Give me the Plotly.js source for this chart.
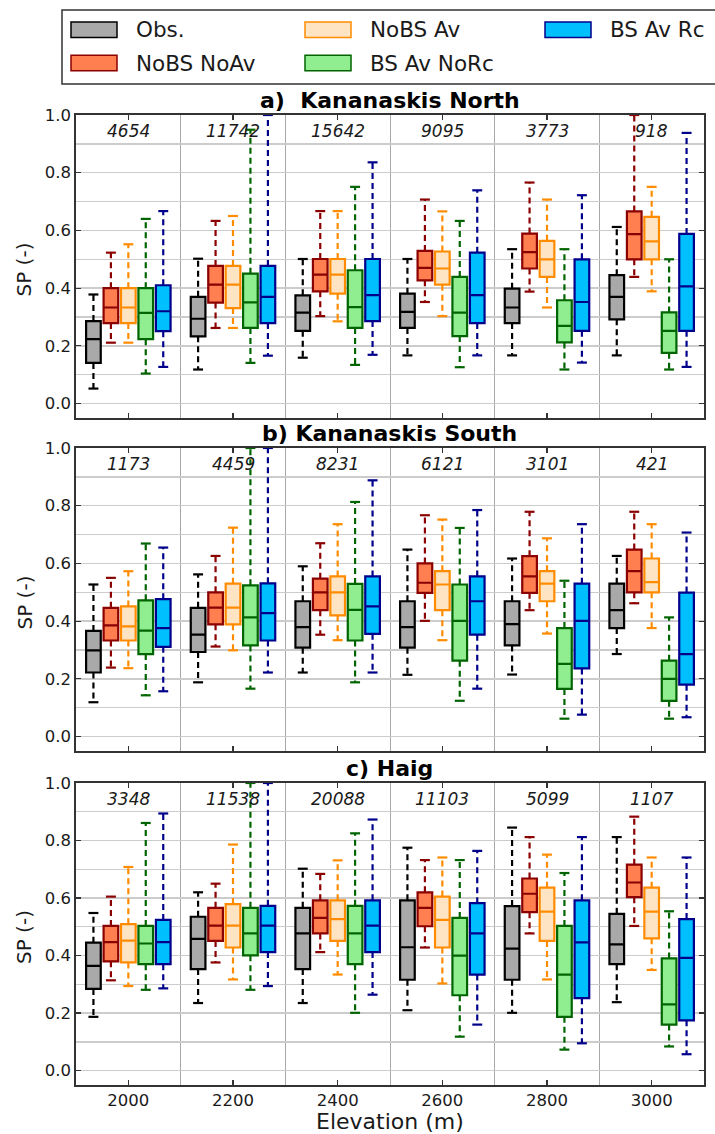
<!DOCTYPE html>
<html><head><meta charset="utf-8">
<script src="https://cdn.plot.ly/plotly-3.0.1.min.js"></script>
<style>html,body{margin:0;padding:0;background:#fff}#chart{width:715px;height:1134px}</style>
</head><body><div id="chart"></div><script>
// ---------------- DATA ----------------
const elevations = [2000, 2200, 2400, 2600, 2800, 3000];
const seriesNames = ['Obs.', 'NoBS NoAv', 'NoBS Av', 'BS Av NoRc', 'BS Av Rc'];
const panelTitles = ['a)  Kananaskis North', 'b) Kananaskis South', 'c) Haig'];
const yTickVals = [0, 0.2, 0.4, 0.6, 0.8, 1.0];
const yTickText = ['0.0', '0.2', '0.4', '0.6', '0.8', '1.0'];

const countsKN = [4654, 11742, 15642, 9095, 3773, 918];
const countsKS = [1173, 4459, 8231, 6121, 3101, 421];
const countsHG = [3348, 11538, 20088, 11103, 5099, 1107];

// each entry: [lower whisker, q1, median, q3, upper whisker] per elevation
const KN_obs   = [[0.052,0.141,0.223,0.286,0.378],[0.118,0.233,0.294,0.370,0.502],[0.159,0.252,0.315,0.375,0.501],[0.167,0.262,0.318,0.381,0.501],[0.167,0.279,0.333,0.398,0.535],[0.167,0.292,0.370,0.445,0.612]];
const KN_nobsNoav = [[0.211,0.279,0.333,0.400,0.523],[0.262,0.350,0.412,0.477,0.633],[0.303,0.389,0.447,0.501,0.667],[0.352,0.427,0.470,0.529,0.707],[0.388,0.468,0.525,0.589,0.766],[0.439,0.500,0.587,0.666,1.0]];
const KN_nobsAv = [[0.211,0.279,0.333,0.400,0.552],[0.262,0.331,0.412,0.477,0.650],[0.285,0.381,0.447,0.501,0.667],[0.303,0.412,0.468,0.527,0.666],[0.333,0.439,0.500,0.564,0.707],[0.389,0.500,0.562,0.647,0.751]];
const KN_bsAvNorc = [[0.104,0.223,0.314,0.400,0.640],[0.141,0.262,0.351,0.450,0.949],[0.134,0.262,0.334,0.462,0.751],[0.126,0.234,0.315,0.439,0.633],[0.118,0.212,0.269,0.358,0.535],[0.118,0.176,0.252,0.316,0.500]];
const KN_bsAvRc = [[0.127,0.251,0.320,0.410,0.667],[0.166,0.279,0.370,0.477,1.0],[0.169,0.286,0.376,0.501,0.836],[0.167,0.279,0.376,0.523,0.739],[0.142,0.252,0.352,0.500,0.722],[0.127,0.252,0.406,0.588,0.938]];

const KS_obs = [[0.119,0.222,0.299,0.366,0.527],[0.188,0.293,0.353,0.446,0.562],[0.222,0.308,0.379,0.469,0.590],[0.214,0.308,0.379,0.469,0.648],[0.215,0.316,0.390,0.469,0.617],[0.286,0.376,0.438,0.530,0.626]];
const KS_nobsNoav = [[0.239,0.333,0.385,0.446,0.550],[0.312,0.389,0.447,0.500,0.626],[0.353,0.438,0.500,0.547,0.670],[0.401,0.498,0.533,0.600,0.767],[0.438,0.498,0.555,0.625,0.779],[0.462,0.500,0.573,0.648,0.779]];
const KS_nobsAv = [[0.237,0.333,0.382,0.451,0.573],[0.299,0.389,0.447,0.530,0.724],[0.334,0.420,0.500,0.555,0.736],[0.334,0.438,0.527,0.573,0.752],[0.357,0.469,0.530,0.573,0.687],[0.376,0.500,0.535,0.617,0.736]];
const KS_bsAvNorc = [[0.143,0.286,0.367,0.472,0.669],[0.166,0.316,0.413,0.524,1.0],[0.188,0.333,0.439,0.529,0.813],[0.124,0.263,0.401,0.527,0.723],[0.062,0.165,0.252,0.376,0.540],[0.062,0.124,0.200,0.263,0.413]];
const KS_bsAvRc = [[0.157,0.311,0.376,0.476,0.655],[0.222,0.333,0.428,0.531,1.0],[0.222,0.356,0.451,0.555,0.888],[0.166,0.353,0.469,0.555,0.785],[0.076,0.236,0.401,0.530,0.736],[0.067,0.180,0.286,0.499,0.707]];

const HG_obs = [[0.187,0.284,0.364,0.445,0.548],[0.235,0.353,0.458,0.535,0.620],[0.235,0.353,0.477,0.566,0.702],[0.210,0.316,0.429,0.592,0.775],[0.201,0.316,0.424,0.572,0.845],[0.238,0.370,0.439,0.545,0.812]];
const HG_nobsNoav = [[0.314,0.380,0.447,0.503,0.605],[0.376,0.451,0.504,0.566,0.650],[0.412,0.477,0.531,0.592,0.684],[0.428,0.502,0.566,0.620,0.732],[0.477,0.551,0.615,0.668,0.812],[0.503,0.603,0.654,0.716,0.883]];
const HG_nobsAv = [[0.294,0.376,0.452,0.509,0.708],[0.317,0.428,0.504,0.579,0.786],[0.334,0.451,0.527,0.592,0.731],[0.303,0.428,0.524,0.605,0.741],[0.317,0.451,0.553,0.636,0.751],[0.350,0.460,0.553,0.636,0.741]];
const HG_bsAvNorc = [[0.281,0.370,0.442,0.503,0.861],[0.281,0.401,0.477,0.566,1.0],[0.201,0.370,0.477,0.573,0.825],[0.118,0.262,0.400,0.531,0.732],[0.073,0.187,0.334,0.503,0.687],[0.084,0.160,0.230,0.390,0.554]];
const HG_bsAvRc = [[0.286,0.370,0.447,0.524,0.894],[0.294,0.412,0.504,0.573,1.0],[0.264,0.412,0.504,0.592,0.873],[0.160,0.334,0.477,0.582,0.764],[0.095,0.252,0.446,0.592,0.812],[0.057,0.175,0.392,0.527,0.741]];

// ---------------- STYLE / LAYOUT ----------------
const fills = ['#a9a9a9', '#ff7f50', '#ffe4c4', '#90ee90', '#00bfff'];
const edges = ['#000000', '#8b0000', '#ff8c00', '#006400', '#00008b'];
const W = 715, H = 1134;
const px = v => v / W, py = v => 1 - v / H;
const FONT = 'DejaVu Sans, Verdana, sans-serif';

const panels = [
  {title: panelTitles[0], counts: countsKN, series: [KN_obs, KN_nobsNoav, KN_nobsAv, KN_bsAvNorc, KN_bsAvRc], top: 115, bot: 418, titleY: 101},
  {title: panelTitles[1], counts: countsKS, series: [KS_obs, KS_nobsNoav, KS_nobsAv, KS_bsAvNorc, KS_bsAvRc], top: 448, bot: 751, titleY: 434},
  {title: panelTitles[2], counts: countsHG, series: [HG_obs, HG_nobsNoav, HG_nobsAv, HG_bsAvNorc, HG_bsAvRc], top: 783, bot: 1085, titleY: 768}
];
const offsets = [-66.7, -33.3, 0, 33.3, 66.7];
const boxW = 28, capHalf = 9.5;
const plotL = 76, plotR = 704;

const traces = [];
const layout = {
  width: W, height: H, margin: {l: 0, r: 0, t: 0, b: 0},
  paper_bgcolor: '#fff', plot_bgcolor: '#fff', showlegend: false,
  font: {family: FONT, color: '#1a1a1a'},
  annotations: [], shapes: []
};

const boundaries = elevations.slice(0, -1).map(e => e + 100);

panels.forEach((p, pi) => {
  const xa = pi === 0 ? 'x' : 'x' + (pi + 1);
  const ya = pi === 0 ? 'y' : 'y' + (pi + 1);
  p.series.forEach((ser, si) => {
    const xs = elevations.map(e => e + offsets[si]);
    const wx = [], wy = [], cx = [], cy = [];
    ser.forEach((d, i) => {
      const x = xs[i];
      wx.push(x, x, null, x, x, null);
      wy.push(d[3], d[4], null, d[1], d[0], null);
      cx.push(x - capHalf, x + capHalf, null, x - capHalf, x + capHalf, null);
      cy.push(d[4], d[4], null, d[0], d[0], null);
    });
    traces.push({type: 'box', x: xs, q1: ser.map(d => d[1]), median: ser.map(d => d[2]), q3: ser.map(d => d[3]),
      lowerfence: ser.map(d => d[1]), upperfence: ser.map(d => d[3]), width: boxW, whiskerwidth: 0,
      fillcolor: fills[si], line: {color: edges[si], width: 2.2}, boxpoints: false,
      xaxis: xa, yaxis: ya, name: seriesNames[si], showlegend: false, hoverinfo: 'skip'});
    traces.push({type: 'scatter', mode: 'lines', x: wx, y: wy, xaxis: xa, yaxis: ya,
      line: {color: edges[si], width: 2.2, dash: '6px,4px'}, showlegend: false, hoverinfo: 'skip'});
    traces.push({type: 'scatter', mode: 'lines', x: cx, y: cy, xaxis: xa, yaxis: ya,
      line: {color: edges[si], width: 2.2}, showlegend: false, hoverinfo: 'skip'});
  });

  const xname = pi === 0 ? 'xaxis' : 'xaxis' + (pi + 1);
  const yname = pi === 0 ? 'yaxis' : 'yaxis' + (pi + 1);
  layout[xname] = {
    domain: [px(plotL), px(plotR)], range: [1900, 3100], anchor: ya,
    tickmode: 'array', tickvals: elevations, ticktext: elevations.map(String),
    showticklabels: pi === 2, tickfont: {size: 16.5, family: FONT, color: '#1a1a1a'},
    ticks: 'inside', ticklen: 5, tickwidth: 1.2, tickcolor: '#333',
    showline: true, linecolor: '#333', linewidth: 1.6, mirror: 'ticks',
    showgrid: false, zeroline: false,
    minor: {tickmode: 'array', tickvals: boundaries, showgrid: true, gridcolor: '#a8a8a8', gridwidth: 1, ticks: ''}
  };
  layout[yname] = {
    domain: [py(p.bot), py(p.top)], range: [-0.05, 1.0], anchor: xa,
    tickmode: 'array', tickvals: yTickVals, ticktext: yTickText,
    tickfont: {size: 16.5, family: FONT, color: '#1a1a1a'},
    ticks: 'inside', ticklen: 5, tickwidth: 1.2, tickcolor: '#333',
    showline: true, linecolor: '#333', linewidth: 1.6, mirror: 'ticks',
    showgrid: true, gridcolor: '#cccccc', gridwidth: 1.3, zeroline: false,
    minor: {dtick: 0.1, tick0: 0, showgrid: true, gridcolor: '#cccccc', gridwidth: 1.3, ticks: ''}
  };

  // counts
  p.counts.forEach((c, i) => {
    layout.annotations.push({x: elevations[i], y: 0.945, xref: xa, yref: ya, text: String(c), showarrow: false,
      font: {size: 17, family: FONT, style: 'italic', color: '#1a1a1a'}, xanchor: 'center', yanchor: 'middle'});
  });
  // panel title
  layout.annotations.push({x: px((plotL + plotR) / 2), y: py(p.titleY), xref: 'paper', yref: 'paper', text: '<b>' + p.title + '</b>',
    showarrow: false, font: {size: 22, family: FONT, color: '#000'}, xanchor: 'center', yanchor: 'middle'});
  // y title
  layout.annotations.push({x: px(24), y: py((p.top + p.bot) / 2 + 3), xref: 'paper', yref: 'paper', text: 'SP (-)', textangle: -90,
    showarrow: false, font: {size: 20, family: FONT, color: '#1a1a1a'}, xanchor: 'center', yanchor: 'middle'});
});

// x title
layout.annotations.push({x: px((plotL + plotR) / 2), y: py(1121), xref: 'paper', yref: 'paper', text: 'Elevation (m)',
  showarrow: false, font: {size: 22, family: FONT, color: '#1a1a1a'}, xanchor: 'center', yanchor: 'middle'});

// legend (custom, column-major with 3 columns like the original)
const legCols = [71, 305, 545], legRows = [29.7, 63];
layout.shapes.push({type: 'rect', xref: 'paper', yref: 'paper', x0: px(62), x1: px(720), y0: py(10), y1: py(84),
  line: {color: '#333', width: 1.5}, fillcolor: '#fff', layer: 'below'});
seriesNames.forEach((n, i) => {
  const col = Math.floor(i / 2), row = i % 2;
  const x0 = legCols[col], yc = legRows[row];
  layout.shapes.push({type: 'rect', xref: 'paper', yref: 'paper', x0: px(x0), x1: px(x0 + 46), y0: py(yc - 7.7), y1: py(yc + 7.7),
    line: {color: edges[i], width: 1.5}, fillcolor: fills[i], layer: 'above'});
  layout.annotations.push({x: px(x0 + 63), y: py(yc), xref: 'paper', yref: 'paper', text: n, showarrow: false,
    font: {size: 21.5, family: FONT, color: '#1a1a1a'}, xanchor: 'left', yanchor: 'middle'});
});

Plotly.newPlot('chart', traces, layout, {staticPlot: true, displayModeBar: false});
</script></body></html>
